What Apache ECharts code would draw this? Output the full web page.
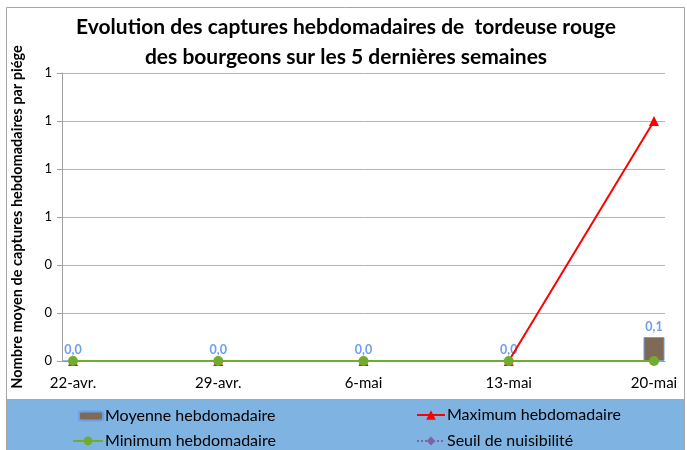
<!DOCTYPE html>
<html><head><meta charset="utf-8">
<script src="https://cdn.jsdelivr.net/npm/echarts@6/dist/echarts.min.js"></script>
<style>html,body{margin:0;padding:0;background:#fff}#c{width:687px;height:450px}</style>
</head><body><div id="c"></div>
<script>
const categories = ['22-avr.', '29-avr.', '6-mai', '13-mai', '20-mai'];
const moyenne = [0, 0, 0, 0, 0.1];
const maximum = [0, 0, 0, 0, 1];
const minimum = [0, 0, 0, 0, 0];
const seuil = [];
const yTicks = [0, 0.2, 0.4, 0.6, 0.8, 1.0, 1.2];

const toPairs = arr => arr.map((v, i) => [i, v]);
const font = 'Lato, "Open Sans", sans-serif';
const legendText = { fontSize: 16, color: '#000', fontFamily: font, padding: [0, 0, 0, -3] };

const chart = echarts.init(document.getElementById('c'));
chart.setOption({
  animation: false,
  textStyle: { fontFamily: font },
  title: {
    text: 'Evolution des captures hebdomadaires de  tordeuse rouge\ndes bourgeons sur les 5 dernières semaines',
    left: 346, top: 12, padding: 0, textAlign: 'center',
    textStyle: { fontFamily: font, fontWeight: 'bold', fontSize: 21, lineHeight: 30, color: '#000' }
  },
  graphic: [
    { type: 'rect', z: -10, shape: { x: 6.5, y: 7.5, width: 678, height: 460 }, style: { fill: '#fff', stroke: '#a6a6a6', lineWidth: 1 } },
    { type: 'rect', z: -9, shape: { x: 7, y: 399, width: 677, height: 60 }, style: { fill: '#7fb4e2' } }
  ],
  grid: { left: 62, right: 22, top: 73, bottom: 89 },
  xAxis: {
    type: 'value', min: -0.0756, max: 4.0756,
    axisLine: { show: true, lineStyle: { color: '#a0a0a0', width: 1 } },
    axisTick: { show: false },
    splitLine: { show: false },
    axisLabel: {
      customValues: [0, 1, 2, 3, 4],
      formatter: v => categories[Math.round(v)],
      color: '#000', fontSize: 15, margin: 15, fontFamily: font
    }
  },
  yAxis: {
    type: 'value', min: 0, max: 1.2, interval: 0.2,
    name: 'Nombre moyen de captures hebdomadaires par piége',
    nameLocation: 'middle', nameGap: 37, nameRotate: 90,
    nameTextStyle: { fontFamily: font, fontWeight: 'bold', fontSize: 14.5, color: '#000' },
    axisLine: { show: true, onZero: false, lineStyle: { color: '#a0a0a0' } },
    axisTick: { show: true, length: 5, lineStyle: { color: '#a0a0a0' } },
    splitLine: { show: true, lineStyle: { color: '#b4b4b4' } },
    axisLabel: { formatter: v => String(Math.round(v)), color: '#000', fontSize: 13, margin: 10, fontFamily: font }
  },
  legend: [
    { left: 78, top: 408, padding: 0, itemWidth: 24, itemHeight: 9, data: ['Moyenne hebdomadaire'], textStyle: legendText },
    { left: 416, top: 407, padding: 0, itemWidth: 28, itemHeight: 12, data: ['Maximum hebdomadaire'], textStyle: legendText },
    { left: 72, top: 433, padding: 0, itemWidth: 30, itemHeight: 11, data: ['Minimum hebdomadaire'], textStyle: legendText },
    { left: 416, top: 433, padding: 0, itemWidth: 28, itemHeight: 11, data: ['Seuil de nuisibilité'], textStyle: legendText }
  ],
  series: [
    {
      name: 'Moyenne hebdomadaire', type: 'bar', barWidth: 21,
      data: toPairs(moyenne),
      itemStyle: { color: '#7f6b55', borderColor: '#6f9ee9', borderWidth: 1 },
      label: {
        show: true, position: 'top', distance: 4,
        formatter: p => p.value[1].toFixed(1).replace('.', ','),
        color: '#6e9ef0', fontWeight: 'bold', fontSize: 12.5, fontFamily: font
      },
      z: 2
    },
    {
      name: 'Maximum hebdomadaire', type: 'line', data: toPairs(maximum),
      symbol: 'triangle', symbolSize: 10,
      lineStyle: { color: '#ff0000', width: 2 }, itemStyle: { color: '#ff0000' }, z: 3
    },
    {
      name: 'Minimum hebdomadaire', type: 'line', data: toPairs(minimum),
      symbol: 'circle', symbolSize: 10,
      lineStyle: { color: '#70ad2e', width: 2 }, itemStyle: { color: '#70ad2e' }, z: 4
    },
    {
      name: 'Seuil de nuisibilité', type: 'line', data: toPairs(seuil),
      symbol: 'diamond', symbolSize: 10,
      lineStyle: { color: '#8064a2', width: 2, type: 'dotted' }, itemStyle: { color: '#8064a2' }, z: 5
    }
  ]
});
</script></body></html>
